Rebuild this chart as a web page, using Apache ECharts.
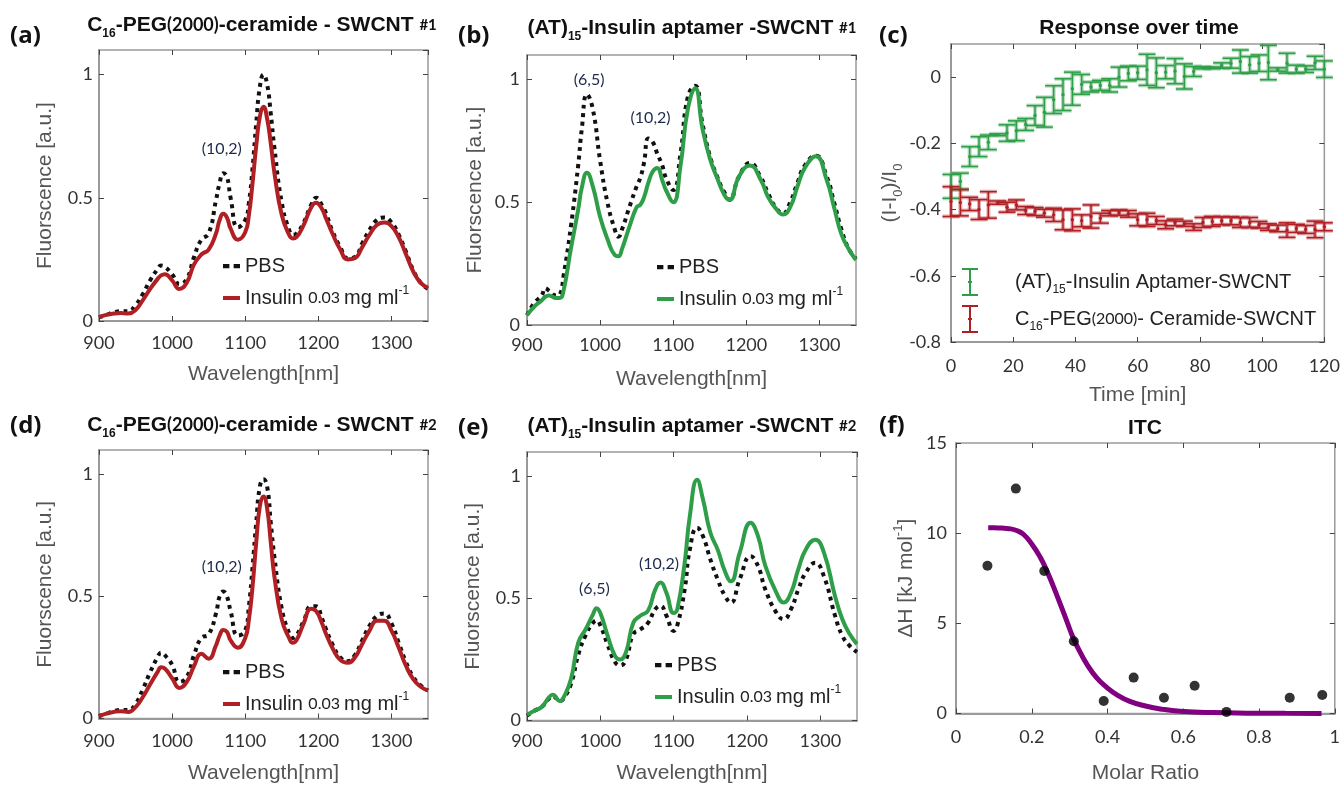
<!DOCTYPE html>
<html><head><meta charset="utf-8">
<script src="https://cdn.jsdelivr.net/npm/echarts@6/dist/echarts.min.js"></script>
<style>html,body{margin:0;padding:0;background:#fff}#c{width:1343px;height:785px}</style>
</head><body><div id="c"></div><script>
// ---------------- DATA ----------------
// (a) C16-PEG(2000)-ceramide-SWCNT #1  and (d) #2 share wavelength sampling
const wlC16 = [900,910,920,930,940,950,960,970,980,985,990,1000,1010,1020,1030,1040,1050,1060,1065,1070,1075,1080,1090,1100,1105,1110,1115,1120,1125,1130,1135,1140,1150,1160,1165,1170,1180,1190,1197,1205,1210,1220,1230,1240,1250,1260,1270,1280,1290,1300,1310,1320,1330,1340,1350];
const pbsA = [.015,.025,.035,.04,.04,.065,.11,.165,.21,.225,.22,.19,.15,.17,.26,.33,.355,.49,.56,.60,.585,.50,.38,.41,.48,.62,.80,.95,1.0,.96,.84,.70,.48,.37,.35,.355,.40,.47,.50,.47,.44,.36,.30,.255,.26,.315,.37,.41,.42,.40,.35,.28,.205,.155,.13];
const insA = [.016,.025,.03,.032,.03,.045,.085,.13,.17,.185,.19,.165,.13,.155,.23,.27,.29,.355,.41,.435,.42,.375,.33,.36,.43,.56,.71,.83,.87,.82,.72,.60,.43,.35,.335,.34,.39,.46,.48,.455,.42,.35,.29,.25,.255,.30,.35,.39,.40,.385,.34,.27,.20,.155,.135];
const pbsD = [.01,.02,.03,.035,.035,.06,.12,.19,.25,.27,.26,.22,.15,.17,.26,.33,.345,.43,.50,.52,.50,.44,.34,.36,.46,.62,.80,.95,.98,.95,.80,.66,.45,.35,.33,.34,.40,.46,.46,.41,.37,.30,.25,.235,.26,.32,.38,.42,.43,.39,.31,.23,.17,.135,.115];
const insD = [.01,.02,.027,.03,.027,.047,.088,.14,.19,.21,.205,.165,.125,.15,.215,.265,.245,.30,.34,.363,.355,.32,.29,.33,.405,.54,.72,.87,.91,.86,.72,.58,.405,.33,.31,.32,.39,.45,.44,.39,.35,.285,.24,.228,.25,.305,.36,.40,.40,.36,.29,.215,.16,.13,.115];
// (b) (AT)15-Insulin aptamer-SWCNT #1
const wlB = [900,910,920,925,930,940,945,950,960,970,975,982,990,1000,1010,1020,1025,1030,1040,1050,1055,1060,1066,1072,1078,1085,1090,1100,1110,1120,1130,1140,1150,1160,1170,1177,1190,1205,1220,1230,1240,1250,1260,1270,1280,1295,1310,1320,1330,1340,1350];
const pbsB = [.04,.09,.12,.15,.14,.12,.125,.20,.40,.65,.80,.94,.88,.67,.50,.39,.36,.39,.48,.565,.60,.66,.76,.745,.70,.65,.60,.55,.70,.93,.975,.82,.69,.605,.54,.51,.605,.66,.60,.535,.48,.455,.50,.58,.65,.69,.605,.50,.39,.31,.27];
const insB = [.04,.075,.10,.115,.12,.11,.11,.14,.31,.47,.56,.62,.565,.44,.35,.285,.28,.31,.40,.48,.49,.52,.58,.625,.64,.59,.55,.50,.65,.88,.965,.80,.68,.60,.53,.51,.605,.65,.59,.52,.476,.45,.48,.565,.64,.687,.59,.48,.37,.31,.265];
// (e) (AT)15-Insulin aptamer-SWCNT #2
const wlE = [900,910,920,930,935,945,950,960,970,980,990,995,1000,1010,1020,1027,1035,1045,1055,1065,1075,1082,1090,1100,1105,1115,1122,1132,1140,1150,1160,1170,1178,1190,1205,1215,1225,1240,1250,1260,1270,1280,1293,1305,1320,1330,1340,1350];
const pbsE = [.02,.04,.055,.09,.10,.08,.09,.15,.27,.35,.40,.41,.39,.31,.24,.225,.25,.354,.374,.40,.456,.47,.43,.367,.39,.537,.70,.79,.755,.66,.578,.51,.483,.578,.673,.633,.537,.442,.415,.456,.537,.605,.646,.59,.43,.347,.306,.28];
const insE = [.023,.04,.055,.095,.105,.08,.095,.17,.32,.374,.435,.46,.44,.347,.265,.25,.28,.40,.43,.45,.537,.565,.524,.44,.456,.646,.837,.986,.905,.77,.70,.61,.57,.687,.81,.755,.633,.524,.483,.524,.62,.70,.74,.687,.51,.415,.354,.313];
// (c) Response over time
const timeC = [0,3,6,9,12,15,18,21,24,27,30,33,36,39,42,45,48,51,54,57,60,63,66,69,72,75,78,81,84,87,90,93,96,99,102,105,108,111,114,117,120];
const aptMean = [-0.33,-0.315,-0.24,-0.21,-0.197,-0.174,-0.169,-0.162,-0.143,-0.116,-0.106,-0.068,-0.053,-0.035,-0.022,-0.03,-0.025,-0.025,0.0,0.011,0.013,0.022,0.013,0.015,0.018,0.002,0.017,0.028,0.028,0.035,0.042,0.047,0.037,0.042,0.044,0.023,0.042,0.024,0.024,0.043,0.024];
const aptErr = [.036,.025,.03,.03,.022,.003,.025,.03,.018,.03,.045,.042,.048,.05,.03,.015,.015,.02,.03,.022,.02,.047,.045,.02,.038,.038,.015,.003,.002,.008,.015,.035,.025,.025,.052,.005,.03,.012,.01,.02,.025];
const cerMean = [-0.376,-0.379,-0.383,-0.40,-0.386,-0.379,-0.393,-0.386,-0.403,-0.406,-0.411,-0.416,-0.431,-0.431,-0.434,-0.421,-0.426,-0.411,-0.409,-0.413,-0.431,-0.431,-0.433,-0.446,-0.439,-0.443,-0.453,-0.439,-0.436,-0.434,-0.434,-0.439,-0.439,-0.446,-0.453,-0.457,-0.462,-0.457,-0.46,-0.46,-0.452];
const cerErr = [.045,.04,.02,.03,.04,.005,.015,.015,.012,.012,.012,.02,.03,.033,.018,.035,.015,.008,.008,.01,.018,.02,.012,.012,.01,.008,.01,.015,.015,.012,.012,.015,.015,.01,.01,.01,.022,.012,.012,.025,.012];
// (f) ITC
const itcRatio = [0.083,0.158,0.233,0.311,0.39,0.469,0.549,0.63,0.714,0.881,0.967];
const itcDH = [8.19,12.47,7.9,4.01,0.69,1.99,0.87,1.54,0.09,0.87,1.03];
const fitRatio = [0.085,0.1,0.12,0.14,0.16,0.178,0.2,0.222,0.239,0.257,0.274,0.292,0.31,0.327,0.345,0.371,0.398,0.424,0.459,0.503,0.547,0.591,0.679,0.767,0.87,0.965];
const fitDH = [10.3,10.3,10.28,10.25,10.15,9.94,9.4,8.68,7.95,7.05,6.14,5.15,4.16,3.43,2.75,1.99,1.45,1.05,0.67,0.4,0.23,0.13,0.05,0.02,0.01,0.0];
// peak annotations [x, y, text]
const notesA = [[1068, 0.70, '(10,2)']];
const notesB = [[985, 1.0, '(6,5)'], [1069, 0.845, '(10,2)']];
const notesD = [[1068, 0.62, '(10,2)']];
const notesE = [[992, 0.54, '(6,5)'], [1080, 0.64, '(10,2)']];

// ---------------- STYLE ----------------
const SANS = 'Liberation Sans, Arial, sans-serif';
const NUM = 'Lato, sans-serif';
const RED = '#AF1F24', GREEN = '#2F9E48', PURPLE = '#800080';
const GREEN_L = 'rgba(47,158,72,0.35)', RED_L = 'rgba(175,31,36,0.35)';
const AX = '#9a9a9a';
const richName = {
  n: {fontFamily: SANS, fontSize: 21, color: '#555', lineHeight: 24},
  sub: {fontFamily: SANS, fontSize: 13, color: '#555', lineHeight: 13, padding: [18, 0, 0, 0]},
  sup: {fontFamily: SANS, fontSize: 13, color: '#555', lineHeight: 13, padding: [0, 0, 16, 0]}
};

const grids = [
  {left: 99, top: 50, width: 329, height: 271},
  {left: 527, top: 55, width: 329, height: 270},
  {left: 951, top: 44, width: 376, height: 298},
  {left: 99, top: 450, width: 329, height: 270},
  {left: 527, top: 452, width: 330, height: 270},
  {left: 956, top: 443, width: 379, height: 277}
].map(g => Object.assign({show: true, borderColor: AX, borderWidth: 1.5, containLabel: false}, g));

const specX = {min: 900, max: 1350, interval: 100, name: '{n|Wavelength[nm]}', hideMax: true};
const specY = {min: 0, max: 1.1, interval: 0.5, name: '{n|Fluorscence [a.u.]}', hideMax: true};
const panelAxes = [
  {x: Object.assign({}, specX, {gap: 41, margin: 13}), y: Object.assign({}, specY, {gap: 42, margin: 6})},
  {x: Object.assign({}, specX, {gap: 42, margin: 11}), y: Object.assign({}, specY, {gap: 40, margin: 7})},
  {x: {min: 0, max: 120, interval: 20, name: '{n|Time [min]}', gap: 41, margin: 15},
   y: {min: -0.8, max: 0.1, interval: 0.2, name: '{n|(I-I}{sub|0}{n|)/I}{sub|0}', gap: 33, margin: 10, hideMax: true}},
  {x: Object.assign({}, specX, {gap: 43, margin: 14}), y: Object.assign({}, specY, {gap: 42, margin: 6})},
  {x: Object.assign({}, specX, {gap: 41, margin: 12}), y: Object.assign({}, specY, {gap: 42, margin: 6})},
  {x: {min: 0, max: 1, interval: 0.2, name: '{n|Molar Ratio}', gap: 48, margin: 15},
   y: {min: 0, max: 15, interval: 5, name: '{n|ΔH [kJ mol}{sup|-1}{n|]}', gap: 38, margin: 9}}
];

function mainAxis(gi, a, isX) {
  return {
    type: 'value', gridIndex: gi, min: a.min, max: a.max, interval: a.interval,
    position: isX ? 'bottom' : 'left',
    name: a.name, nameLocation: 'middle', nameGap: a.gap,
    nameTextStyle: {rich: richName},
    axisLine: {show: true, onZero: false, lineStyle: {color: AX, width: 2}},
    axisTick: {show: true, inside: true, length: 5, lineStyle: {color: '#444', width: 1}},
    axisLabel: {show: true, margin: a.margin, fontFamily: NUM, fontSize: 18, color: '#333',
      showMaxLabel: a.hideMax ? false : true, showMinLabel: true,
      formatter: v => String(+Number(v).toFixed(3))},
    splitLine: {show: false}
  };
}
function mirrorAxis(gi, a, isX) {
  return {
    type: 'value', gridIndex: gi, min: a.min, max: a.max, interval: a.interval,
    position: isX ? 'top' : 'right',
    axisLine: {show: false, onZero: false},
    axisTick: {show: true, inside: true, length: 5, lineStyle: {color: '#444', width: 1}},
    axisLabel: {show: false}, splitLine: {show: false}
  };
}
const xAxis = [], yAxis = [];
panelAxes.forEach((p, i) => { xAxis.push(mainAxis(i, p.x, true)); yAxis.push(mainAxis(i, p.y, false)); });
panelAxes.forEach((p, i) => { xAxis.push(mirrorAxis(i, p.x, true)); yAxis.push(mirrorAxis(i, p.y, false)); });

function notesMark(notes) {
  return {
    symbol: 'rect', symbolSize: 1, itemStyle: {color: 'rgba(0,0,0,0)'}, silent: true, animation: false,
    label: {show: true, position: 'inside', fontFamily: NUM, fontSize: 16, color: '#1c2a4a',
      formatter: p => p.name},
    data: notes.map(n => ({name: n[2], coord: [n[0], n[1]]}))
  };
}
function spec(gi, wl, vals, name, color, dotted, notes) {
  const s = {
    type: 'line', name, xAxisIndex: gi, yAxisIndex: gi,
    data: wl.map((w, i) => [w, vals[i]]),
    smooth: true, symbol: 'none', silent: true, animation: false,
    lineStyle: {color, width: 4, type: dotted ? [4, 4.5] : 'solid', cap: 'butt', join: 'round'},
    itemStyle: {color}, z: dotted ? 2 : 3
  };
  if (notes) s.markPoint = notesMark(notes);
  return s;
}
function errSeries(gi, name, t, m, e, color, light) {
  return {
    type: 'custom', name, xAxisIndex: gi, yAxisIndex: gi, itemStyle: {color}, animation: false, silent: true,
    data: t.map((v, i) => [v, m[i], e[i]]), encode: {x: 0, y: 1},
    renderItem: (params, api) => {
      const x = api.value(0), mm = api.value(1), ee = api.value(2);
      const p0 = api.coord([x, mm + ee]), p1 = api.coord([x, mm - ee]), pc = api.coord([x, mm]);
      const hw = 8.5;
      const mk = st => [
        {type: 'line', shape: {x1: p0[0], y1: p0[1], x2: p1[0], y2: p1[1]}, style: st},
        {type: 'line', shape: {x1: p0[0] - hw, y1: p0[1], x2: p0[0] + hw, y2: p0[1]}, style: st},
        {type: 'line', shape: {x1: p1[0] - hw, y1: p1[1], x2: p1[0] + hw, y2: p1[1]}, style: st}
      ];
      return {type: 'group', children: [
        ...mk({stroke: light, lineWidth: 4}),
        ...mk({stroke: color, lineWidth: 1.5}),
        {type: 'circle', shape: {cx: pc[0], cy: pc[1], r: 1.7}, style: {fill: color}}
      ]};
    }
  };
}

const series = [
  spec(0, wlC16, pbsA, 'PBS_a', '#111', true, notesA),
  spec(0, wlC16, insA, 'INS_a', RED, false),
  spec(1, wlB, pbsB, 'PBS_b', '#111', true, notesB),
  spec(1, wlB, insB, 'INS_b', GREEN, false),
  errSeries(2, 'APT', timeC, aptMean, aptErr, GREEN, GREEN_L),
  errSeries(2, 'CER', timeC, cerMean, cerErr, RED, RED_L),
  spec(3, wlC16, pbsD, 'PBS_d', '#111', true, notesD),
  spec(3, wlC16, insD, 'INS_d', RED, false),
  spec(4, wlE, pbsE, 'PBS_e', '#111', true, notesE),
  spec(4, wlE, insE, 'INS_e', GREEN, false),
  {type: 'line', name: 'fit', xAxisIndex: 5, yAxisIndex: 5, data: fitRatio.map((r, i) => [r, fitDH[i]]),
   smooth: true, symbol: 'none', silent: true, animation: false,
   lineStyle: {color: PURPLE, width: 5}, itemStyle: {color: PURPLE}, z: 2},
  {type: 'scatter', name: 'itc', xAxisIndex: 5, yAxisIndex: 5, data: itcRatio.map((r, i) => [r, itcDH[i]]),
   symbol: 'circle', symbolSize: 10, itemStyle: {color: '#000'}, silent: true, animation: false, z: 3}
];

// ---------------- LEGENDS ----------------
const legendText = {
  PBS_a: '{n|PBS}', PBS_b: '{n|PBS}', PBS_d: '{n|PBS}', PBS_e: '{n|PBS}',
  INS_a: '{n|Insulin }{s|0.03 }{n|mg ml}{sup|-1}', INS_b: '{n|Insulin }{s|0.03 }{n|mg ml}{sup|-1}',
  INS_d: '{n|Insulin }{s|0.03 }{n|mg ml}{sup|-1}', INS_e: '{n|Insulin }{s|0.03 }{n|mg ml}{sup|-1}',
  APT: '{pad|(AT)}{sub|15}{n|-Insulin Aptamer-SWCNT}',
  CER: '{pad|C}{sub|16}{n|-PEG}{s|(2000)}{n|- Ceramide-SWCNT}'
};
const legRich = {
  n: {fontFamily: SANS, fontSize: 20, color: '#222', lineHeight: 22},
  pad: {fontFamily: SANS, fontSize: 20, color: '#222', lineHeight: 22, padding: [0, 0, 0, 32]},
  s: {fontFamily: NUM, fontSize: 16, color: '#222', lineHeight: 22},
  sub: {fontFamily: SANS, fontSize: 12, color: '#222', lineHeight: 12, padding: [16, 0, 0, 0]},
  sup: {fontFamily: SANS, fontSize: 12, color: '#222', lineHeight: 12, padding: [0, 0, 14, 0]}
};
const ICON_DOT = 'path://M0,0h6v4h-6z M10,0h6v4h-6z';
const ICON_LINE = 'path://M0,0h17v4h-17z';
const ICON_ERR = 'path://M0,0h16v2h-7v11h1v2h-1v11h7v2h-16v-2h7v-11h-1v-2h1v-11h-7z';
function legend(left, top, names, icons, extra) {
  return Object.assign({
    orient: 'vertical', left, top, padding: 0, itemWidth: 17, itemHeight: 14, itemGap: 9,
    selectedMode: false, symbolKeepAspect: true, itemStyle: {borderWidth: 0},
    data: names.map((n, i) => ({name: n, icon: icons[i]})),
    formatter: n => legendText[n], textStyle: {rich: legRich}
  }, extra || {});
}
const legends = [
  legend(223, 256, ['PBS_a', 'INS_a'], [ICON_DOT, ICON_LINE]),
  legend(657, 257, ['PBS_b', 'INS_b'], [ICON_DOT, ICON_LINE]),
  legend(962, 268, ['APT', 'CER'], [ICON_ERR, ICON_ERR], {itemWidth: 16, itemHeight: 28, itemGap: 9}),
  legend(223, 662, ['PBS_d', 'INS_d'], [ICON_DOT, ICON_LINE]),
  legend(655, 655, ['PBS_e', 'INS_e'], [ICON_DOT, ICON_LINE])
];

// ---------------- TITLES / PANEL LABELS ----------------
const titleRich = {
  b: {fontFamily: SANS, fontSize: 21, fontWeight: 'bold', fill: '#111', color: '#111', lineHeight: 24},
  p: {fontFamily: NUM, fontSize: 18, fontWeight: 'bold', fill: '#111', color: '#111', lineHeight: 24},
  h: {fontFamily: NUM, fontSize: 15, fontWeight: 'bold', fill: '#111', color: '#111', lineHeight: 24},
  sub: {fontFamily: SANS, fontSize: 12, fontWeight: 'bold', fill: '#111', color: '#111', lineHeight: 12, padding: [18, 0, 0, 0]}
};
const titles = [
  [262, 25, '{b|C}{sub|16}{b|-PEG}{p|(2000)}{b|-ceramide - SWCNT }{h|#1}'],
  [692, 28, '{b|(AT)}{sub|15}{b|-Insulin aptamer -SWCNT }{h|#1}'],
  [1139, 28, '{b|Response over time}'],
  [262, 425, '{b|C}{sub|16}{b|-PEG}{p|(2000)}{b|-ceramide - SWCNT }{h|#2}'],
  [692, 426, '{b|(AT)}{sub|15}{b|-Insulin aptamer -SWCNT }{h|#2}'],
  [1145, 428, '{b|ITC}']
];
const panelLabels = [[10, 36, '(a)'], [458, 36, '(b)'], [879, 36, '(c)'], [10, 426, '(d)'], [458, 428, '(e)'], [879, 426, '(f)']];
const graphic = [];
titles.forEach(t => graphic.push({type: 'text', x: t[0], y: t[1], silent: true,
  style: {text: t[2], rich: titleRich, align: 'center', verticalAlign: 'middle', fill: '#111'}}));
panelLabels.forEach(t => graphic.push({type: 'text', x: t[0], y: t[1], silent: true,
  style: {text: t[2], fontFamily: 'Open Sans, sans-serif', fontSize: 24, fontWeight: 'bold', fill: '#111',
    align: 'left', verticalAlign: 'middle'}}));

const chart = echarts.init(document.getElementById('c'), null, {renderer: 'canvas'});
chart.setOption({
  backgroundColor: '#fff', animation: false,
  grid: grids, xAxis, yAxis, series, legend: legends, graphic
});
</script></body></html>
